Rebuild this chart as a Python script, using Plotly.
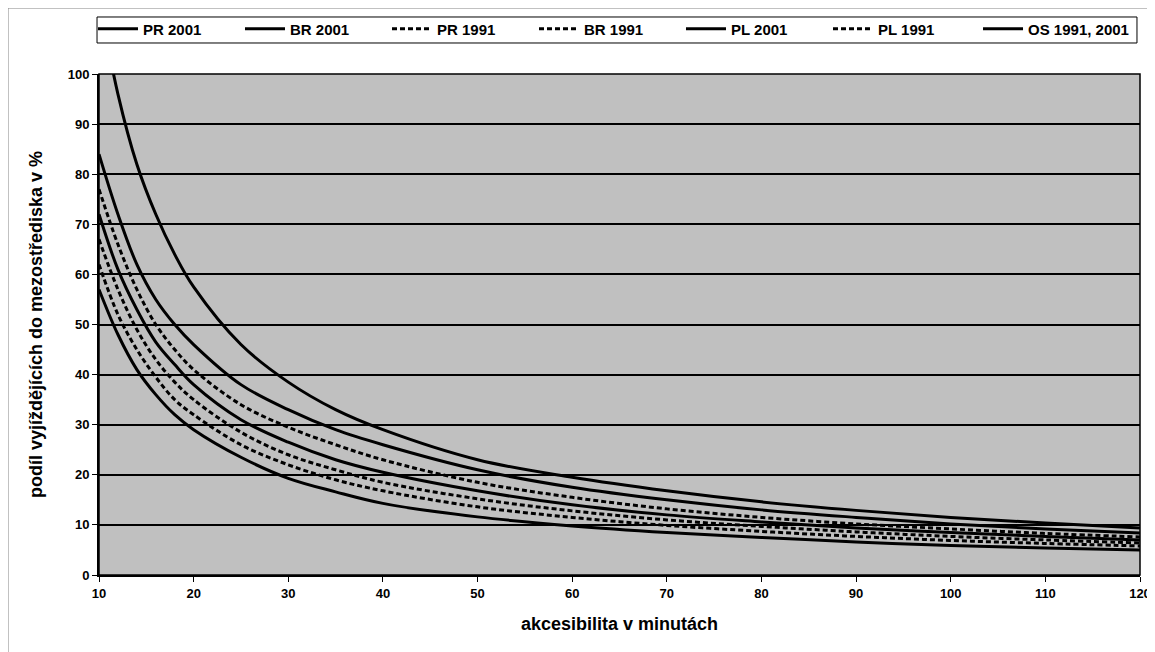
import plotly.graph_objects as go

x_min = [10, 12, 14, 16, 18, 20, 25, 30, 35, 40, 50, 60, 70, 80, 90, 100, 110, 120]

pr_2001 = [115, 96, 82, 72, 64, 57.5, 46, 38.5, 33, 29, 23, 19.5, 16.8, 14.6, 12.9, 11.5, 10.4, 9.4]
br_2001 = [84, 72, 62, 55, 50, 46, 38, 33, 29, 26, 21, 17.5, 15, 13, 11.5, 10.2, 9.2, 8.4]
pr_1991 = [77, 66, 57, 50, 45, 41, 34, 29.5, 26, 23, 18.5, 15.5, 13.2, 11.5, 10.2, 9.2, 8.3, 7.6]
br_1991 = [67, 57, 49, 43, 38.5, 35, 28.5, 24, 21, 18.5, 15.2, 12.8, 11, 9.7, 8.6, 7.7, 7.0, 6.4]
pl_2001 = [72, 61, 53, 46.5, 42, 38, 31, 26.5, 23, 20.5, 16.8, 14, 12, 10.6, 9.4, 8.5, 7.7, 7.0]
pl_1991 = [62, 52, 45, 39.5, 35, 32, 26, 22, 19, 16.8, 13.6, 11.5, 9.9, 8.7, 7.7, 6.9, 6.3, 5.8]
os_1991_2001 = [57, 48, 41, 36, 32, 29, 23.5, 19.3, 16.6, 14.3, 11.6, 9.8, 8.5, 7.5, 6.6, 5.9, 5.4, 5.0]

series = [
    ("PR 2001", pr_2001, "solid", "legend"),
    ("BR 2001", br_2001, "solid", "legend"),
    ("PR 1991", pr_1991, "5px,3px", "legend"),
    ("BR 1991", br_1991, "5px,3px", "legend"),
    ("PL 2001", pl_2001, "solid", "legend"),
    ("PL 1991", pl_1991, "5px,3px", "legend"),
    ("OS 1991, 2001", os_1991_2001, "solid", "legend2"),
]

x_ticks = list(range(10, 121, 10))
y_ticks = list(range(0, 101, 10))

fig = go.Figure()
for name, vals, dash, lg in series:
    fig.add_trace(go.Scatter(
        x=x_min, y=vals, name=name, mode="lines", legend=lg,
        line=dict(color="black", width=3, dash=dash, shape="spline", smoothing=1.0),
    ))

font_family = "Liberation Sans, Arial, sans-serif"
legend_font = dict(family=font_family, size=15, color="black", weight="bold")

fig.update_layout(
    width=1147, height=644,
    margin=dict(l=91, r=15, t=66, b=77, autoexpand=False),
    paper_bgcolor="white",
    plot_bgcolor="#c0c0c0",
    font=dict(family=font_family, color="black", size=13),
    showlegend=True,
    legend=dict(
        orientation="h", xref="container", yref="container",
        x=0.0741, xanchor="left", y=0.993, yanchor="top",
        bgcolor="rgba(0,0,0,0)", borderwidth=0,
        font=legend_font,
        itemwidth=40, entrywidth=92, entrywidthmode="pixels", tracegroupgap=0,
    ),
    legend2=dict(
        orientation="h", xref="container", yref="container",
        x=0.8457, xanchor="left", y=0.993, yanchor="top",
        bgcolor="rgba(0,0,0,0)", borderwidth=0,
        font=legend_font, itemwidth=40,
    ),
    xaxis=dict(
        range=[10, 120], tickvals=x_ticks, ticktext=[str(v) for v in x_ticks],
        showgrid=False, zeroline=False, showline=True, linecolor="black", linewidth=2,
        ticks="outside", ticklen=5, tickcolor="black", tickwidth=1, automargin=False,
        tickfont=dict(family=font_family, size=13, weight="bold"),
        title=dict(text="akcesibilita v minutách",
                   font=dict(family=font_family, size=18, weight="bold"), standoff=18),
    ),
    yaxis=dict(
        range=[0, 100], tickvals=y_ticks, ticktext=[str(v) for v in y_ticks],
        showgrid=True, gridcolor="black", gridwidth=2, automargin=False,
        zeroline=False, showline=True, linecolor="black", linewidth=2, mirror=False,
        ticks="outside", ticklen=5, tickcolor="black", tickwidth=1,
        tickfont=dict(family=font_family, size=13, weight="bold"),
        title=dict(text="podíl vyjíždějících do mezostřediska v %",
                   font=dict(family=font_family, size=18, weight="bold"), standoff=20),
    ),
    shapes=[
        dict(type="rect", xref="paper", yref="paper",
             x0=-0.0874, x1=1.0096, y0=-0.16, y1=1.1317,
             line=dict(color="#888888", width=1), fillcolor="rgba(0,0,0,0)", layer="below"),
        dict(type="rect", xref="paper", yref="paper",
             x0=-0.0019, x1=0.9971, y0=1.0619, y1=1.1138,
             line=dict(color="black", width=1), fillcolor="white", layer="below"),
        dict(type="rect", xref="paper", yref="paper", x0=0, x1=1, y0=0, y1=1,
             line=dict(color="black", width=1.5), fillcolor="rgba(0,0,0,0)"),
    ],
)

fig.write_html("out.html")
